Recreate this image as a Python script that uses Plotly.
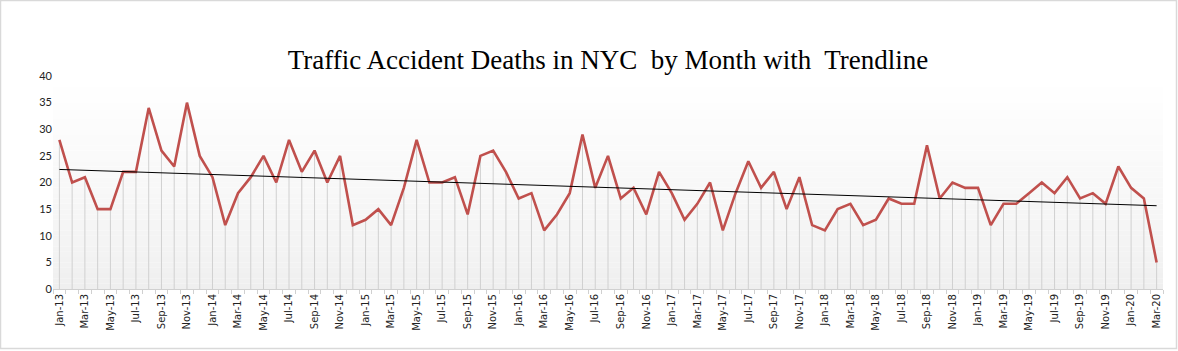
import numpy as np
import plotly.graph_objects as go

months = [f"{m}-{y}" for y in range(13, 21) for m in
          ["Jan", "Feb", "Mar", "Apr", "May", "Jun", "Jul", "Aug", "Sep", "Oct", "Nov", "Dec"]][:87]

deaths = [28, 20, 21, 15, 15, 22, 22, 34, 26, 23, 35, 25,
          21, 12, 18, 21, 25, 20, 28, 22, 26, 20, 25, 12,
          13, 15, 12, 19, 28, 20, 20, 21, 14, 25, 26, 22,
          17, 18, 11, 14, 18, 29, 19, 25, 17, 19, 14, 22,
          18, 13, 16, 20, 11, 18, 24, 19, 22, 15, 21, 12,
          11, 15, 16, 12, 13, 17, 16, 16, 27, 17, 20, 19,
          19, 12, 16, 16, 18, 20, 18, 21, 17, 18, 16, 23,
          19, 17, 5]

title_text = "Traffic Accident Deaths in NYC  by Month with  Trendline"
y_ticks = [0, 5, 10, 15, 20, 25, 30, 35, 40]

x = list(range(len(months)))
slope, intercept = np.polyfit(x, deaths, 1)
trend = [slope * i + intercept for i in x]

W, H = 1178, 351
ml, mr, mt, mb = 53, 15, 76, 62

fig = go.Figure()

# drop lines
fig.add_trace(go.Scatter(
    x=x, y=deaths, mode="markers", marker=dict(size=0.1, opacity=0),
    error_y=dict(type="data", symmetric=False, array=[0] * len(deaths),
                 arrayminus=deaths, color="#d0d0d0", thickness=1, width=0),
    hoverinfo="skip", showlegend=False))

fig.add_trace(go.Scatter(x=x, y=deaths, mode="lines",
                         line=dict(color="#c0504d", width=2.6),
                         showlegend=False))
fig.add_trace(go.Scatter(x=x, y=trend, mode="lines",
                         line=dict(color="#000000", width=1),
                         showlegend=False))

shapes = []
n = 40
for i in range(n):
    t = i / (n - 1)
    v = int(round(239 + (255 - 239) * (t ** 0.8)))
    col = f"rgb({v},{v},{v})"
    shapes.append(dict(type="rect", xref="paper", yref="paper",
                       x0=0, x1=1, y0=i / n, y1=(i + 1) / n,
                       fillcolor=col, line=dict(width=0), layer="below"))

pw = W - ml - mr
ph = H - mt - mb
shapes.append(dict(type="rect", xref="paper", yref="paper",
                   x0=(-ml + 0.5) / pw, x1=(pw + mr - 1.5) / pw,
                   y0=(-mb + 2.5) / ph, y1=(ph + mt - 0.5) / ph,
                   line=dict(color="#d9d9d9", width=1.5), fillcolor="rgba(0,0,0,0)",
                   layer="above"))

fig.update_layout(
    width=W, height=H,
    margin=dict(l=ml, r=mr, t=mt, b=mb),
    paper_bgcolor="white", plot_bgcolor="white",
    shapes=shapes,
    title=dict(text=title_text, x=0.5, xref="paper", y=0.83, yanchor="middle",
               font=dict(family="Liberation Serif", size=27, color="black")),
    xaxis=dict(range=[-0.5, len(months) - 0.5], tickmode="array",
               tickvals=x[::2], ticktext=months[::2], tickangle=-90,
               tickfont=dict(family="DejaVu Sans", size=10, color="#222"),
               showgrid=False, zeroline=False, showline=True,
               linecolor="#d0d0d0", linewidth=1, ticks="", ticklen=0,
               minor=dict(tickmode="array", tickvals=[i - 0.5 for i in range(len(months) + 1)],
                          ticks="outside", ticklen=4, tickcolor="#d0d0d0", showgrid=False)),
    yaxis=dict(range=[0, 40], tickvals=y_ticks, showgrid=False, zeroline=False,
               showline=False, tickfont=dict(family="Lato", size=11, color="#222")),
)

fig.write_html("out.html")
